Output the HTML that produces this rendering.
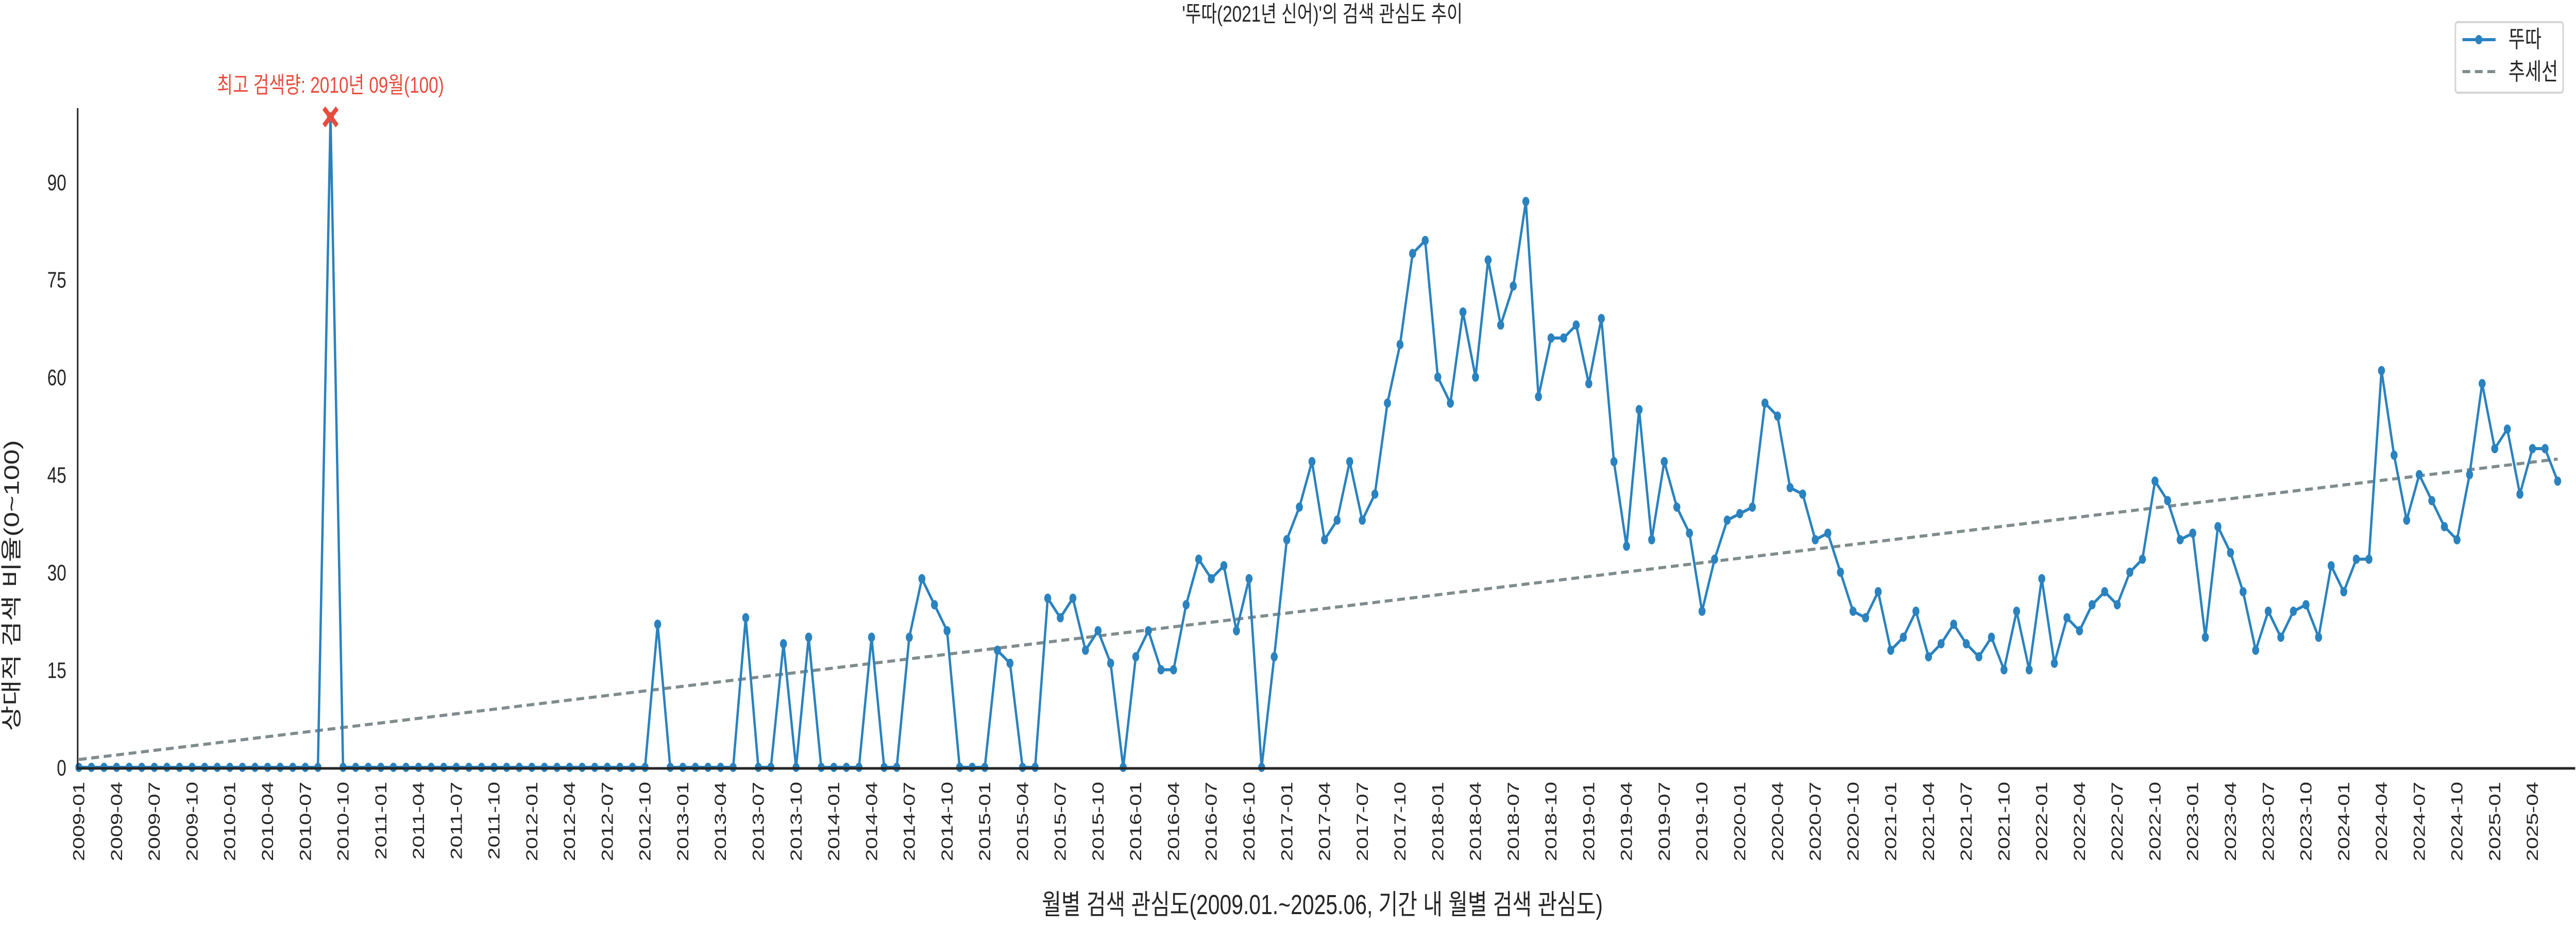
<!DOCTYPE html>
<html><head><meta charset="utf-8"><style>
html,body{margin:0;padding:0;background:#fff;width:100%;height:100%;overflow:hidden;}
svg{display:block;position:absolute;left:0;top:0;width:100%;height:100%;}
text{font-family:"Liberation Sans","Noto Sans CJK KR",sans-serif;fill:#262626;}
</style></head><body>
<svg id="chart" viewBox="0 0 6600 1800" preserveAspectRatio="none" xmlns="http://www.w3.org/2000/svg">
<text x="3388" y="42" font-size="44" text-anchor="middle">'뚜따(2021년 신어)'의 검색 관심도 추이</text>
<g id="trendG"></g>
<g id="lineG"></g>
<g id="axes"></g>
<text transform="translate(48,1137) rotate(-90)" font-size="54" text-anchor="middle">상대적 검색 비율(0~100)</text>
<text x="3388" y="1775" font-size="54" text-anchor="middle">월별 검색 관심도(2009.01.~2025.06, 기간 내 월별 검색 관심도)</text>
<g>
<rect x="6291" y="43" width="276" height="137" rx="6" fill="#fff" stroke="#d5d5d5" stroke-width="4"/>
<line x1="6309" y1="77" x2="6394" y2="77" stroke="#2a82bf" stroke-width="6"/>
<circle cx="6351" cy="77" r="9" fill="#2a82bf"/>
<text x="6427" y="92" font-size="46">뚜따</text>
<line x1="6309" y1="139" x2="6394" y2="139" stroke="#7f8c8d" stroke-width="6" stroke-dasharray="20,12"/>
<text x="6427" y="155" font-size="46">추세선</text>
</g>
</svg>
<script>
const months = [];
for (let y = 2009; y <= 2025; y++) for (let m = 1; m <= 12; m++) { if (y === 2025 && m > 6) break; months.push(y + '-' + String(m).padStart(2, '0')); }
const values = [0,0,0,0,0,0,0,0,0,0,0,0,0,0,0,0,0,0,0,0,100,0,0,0,0,0,0,0,0,0,0,0,0,0,0,0,0,0,0,0,0,0,0,0,0,0,22,0,0,0,0,0,0,23,0,0,19,0,20,0,0,0,0,20,0,0,20,29,25,21,0,0,0,18,16,0,0,26,23,26,18,21,16,0,17,21,15,15,25,32,29,31,21,29,0,17,35,40,47,35,38,47,38,42,56,65,79,81,60,56,70,60,78,68,74,87,57,66,66,68,59,69,47,34,55,35,47,40,36,24,32,38,39,40,56,54,43,42,35,36,30,24,23,27,18,20,24,17,19,22,19,17,20,15,24,15,29,16,23,21,25,27,25,30,32,44,41,35,36,20,37,33,27,18,24,20,24,25,20,31,27,32,32,61,48,38,45,41,37,35,45,59,49,52,42,49,49,44];
const trendEnds = [1.2, 47.4];
const yTicks = [0, 15, 30, 45, 60, 75, 90];
const peakLabel = '최고 검색량: 2010년 09월(100)';

const NS = 'http://www.w3.org/2000/svg';
const X0 = 202, XN = 6553, Y0 = 1490, UNIT = 12.63;
const xs = i => X0 + (XN - X0) * i / (months.length - 1);
const ys = v => Y0 - v * UNIT;
function mk(tag, attrs, parent) { const e = document.createElementNS(NS, tag); for (const k in attrs) e.setAttribute(k, attrs[k]); parent.appendChild(e); return e; }

const axes = document.getElementById('axes');
const ls = mk('line', {x1: 199, y1: 210, x2: 199, y2: Y0 + 3, stroke: '#262626', 'stroke-width': 4}, axes);


const bs = mk('line', {x1: 197, y1: Y0 + 2, x2: 6598, y2: Y0 + 2, stroke: '#262626', 'stroke-width': 5}, axes);


yTicks.forEach(t => {
  const tx = mk('text', {x: 170, y: ys(t) + 16, 'font-size': 44, 'text-anchor': 'end'}, axes);
  tx.textContent = t;
  
  
});
months.forEach((m, i) => {
  if (i % 3 !== 0) return;
  const x = xs(i);
  const tx = mk('text', {transform: `translate(${x + 14},1518) rotate(-90)`, 'font-size': 42, 'text-anchor': 'end'}, axes);
  tx.textContent = m;
  
  
});

const tg = document.getElementById('trendG');
const tl = mk('line', {x1: xs(0), y1: ys(trendEnds[0]), x2: xs(months.length - 1), y2: ys(trendEnds[1]), stroke: '#7f8c8d', 'stroke-width': 6, 'stroke-dasharray': '20,12'}, tg);



const lg = document.getElementById('lineG');
const pts = values.map((v, i) => xs(i).toFixed(1) + ',' + ys(v).toFixed(1)).join(' ');
const pl = mk('polyline', {points: pts, fill: 'none', stroke: '#2a82bf', 'stroke-width': 6, 'stroke-linejoin': 'round'}, lg);


values.forEach((v, i) => {
  const c = mk('circle', {cx: xs(i), cy: ys(v), r: 9, fill: '#2a82bf'}, lg);
  
  
});
let pk = 0; values.forEach((v, i) => { if (v > values[pk]) pk = i; });
const px = xs(pk), py = ys(values[pk]);
const mark = mk('path', {d: `M${px-17},${py-17}L${px+17},${py+17}M${px+17},${py-17}L${px-17},${py+17}`, stroke: '#e74c3c', 'stroke-width': 10}, lg);


const an = mk('text', {x: px, y: py - 47, 'font-size': 44, 'text-anchor': 'middle', style: 'fill:#e74c3c'}, lg);
an.textContent = peakLabel;


</script>
</body></html>
